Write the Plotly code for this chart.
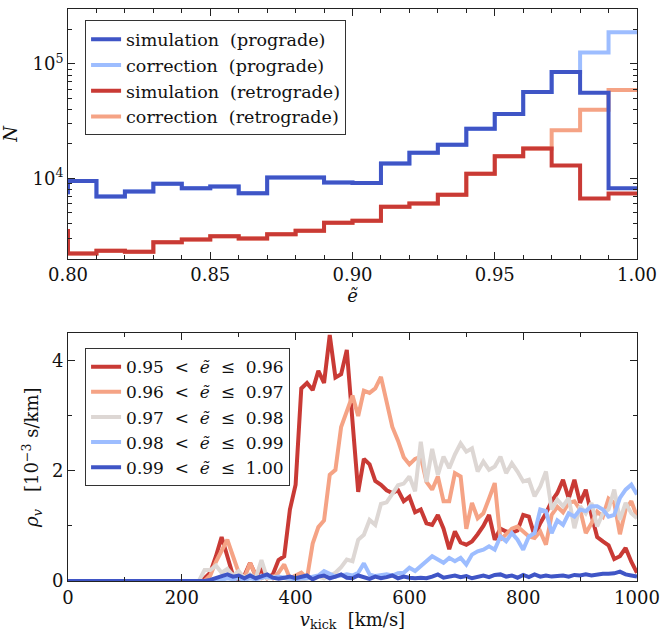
import numpy as np
import plotly.graph_objects as go
from plotly.subplots import make_subplots

# ---------------- top panel data: histograms in eccentricity ----------------
bin_left = [0.79, 0.80, 0.81, 0.82, 0.83, 0.84, 0.85, 0.86, 0.87, 0.88, 0.89,
            0.90, 0.91, 0.92, 0.93, 0.94, 0.95, 0.96, 0.97, 0.98, 0.99]
bin_width = 0.01
sim_pro = [7560, 9500, 6950, 7700, 9000, 8200, 8500, 7440, 10200, 10200, 9230,
           9100, 13500, 16800, 19700, 27200, 36500, 57000, 85000, 56100, 8200]
corr_pro = [7560, 9500, 6950, 7700, 9000, 8200, 8500, 7440, 10200, 10200, 9230,
            9100, 13500, 16800, 19700, 27200, 36500, 57000, 85000, 126000, 189000]
sim_retro = [3480, 2210, 2330, 2290, 2770, 2930, 3130, 2990, 3260, 3490, 4100,
             4260, 5650, 6040, 7200, 11000, 15600, 18300, 13000, 6680, 7400]
corr_retro = [3480, 2210, 2330, 2290, 2770, 2930, 3130, 2990, 3260, 3490, 4100,
              4260, 5650, 6040, 7200, 11000, 15600, 18300, 26300, 39800, 59300]

# ---------------- bottom panel data: kick velocity distributions ----------------
v_kick = list(range(0, 1010, 10))
rho_095 = [0]*24 + [0.05, 0.15, 0.45, 0.8, 0.45, 0.1, 0.02, 0.1, 0.33, 0.1, 0.2, 0.05, 0.12, 0.38, 0.45, 1.3,
           1.75, 3.5, 3.6, 3.47, 3.82, 3.6, 4.47, 3.7, 3.76, 4.2,
           2.9, 1.62, 2.22, 2.12, 1.82, 1.75, 1.65, 1.6, 1.65, 1.45,
           1.53, 1.25, 1.3, 1.05, 1.02, 1.2, 0.95, 0.58, 0.9, 0.7,
           0.66, 0.72, 0.85, 1.0, 1.2, 0.75, 0.95, 0.9, 0.88, 0.92,
           1.2, 1.17, 0.82, 1.05, 1.23, 1.45, 1.6, 1.84, 1.5, 1.84,
           1.42, 1.66, 1.2, 0.8, 0.72, 0.65, 0.4, 0.45, 0.6, 0.35, 0.15]
rho_096 = [0]*25 + [0.1, 0.35, 0.55, 0.75, 0.45, 0.15, 0.05, 0.33, 0.1, 0.05, 0.1, 0.05, 0.15, 0.3, 0.05,
           0.1, 0.15, 0.05, 0.68, 0.98, 1.1, 1.93, 2.02, 2.8, 3.1,
           3.37, 3.0, 3.46, 3.42, 3.5, 3.71, 3.22, 2.8, 2.55, 2.25,
           2.12, 2.22, 2.26, 1.8, 1.66, 1.9, 1.45, 1.45, 1.96, 1.9,
           0.95, 1.42, 1.14, 1.23, 1.5, 1.78, 0.75, 0.84, 0.95, 0.99,
           0.9, 0.81, 0.78, 0.9, 0.66, 1.2, 1.35, 1.25, 1.42, 1.45,
           1.3, 0.87, 1.05, 1.26, 1.17, 1.5, 1.42, 0.85, 1.3, 1.45, 1.17]
rho_097 = [0]*24 + [0.2, 0.2, 0.28, 0.15, 0.22, 0.1, 0.18, 0.05, 0.12, 0.05, 0.38, 0.05, 0.08, 0.05, 0.05, 0.02,
           0.05, 0.02, 0.05, 0.05, 0.08, 0.05, 0.1, 0.15, 0.25, 0.39,
           0.36, 0.75, 0.84, 1.11, 1.02, 1.4, 1.43, 1.6, 1.74, 1.77,
           1.9, 1.63, 2.53, 1.8, 2.4, 1.93, 2.26, 2.05, 2.3, 2.5,
           2.35, 2.41, 1.99, 2.17, 2.02, 2.08, 2.26, 1.96, 2.14, 1.99,
           1.81, 1.84, 1.54, 1.72, 1.99, 1.3, 1.48, 1.36, 1.51, 0.96,
           1.36, 1.23, 1.42, 0.99, 1.23, 1.3, 1.66, 1.11, 1.42, 1.23, 1.14]
rho_098 = [0]*27 + [0.02, 0.05, 0.03, 0.05, 0.02, 0.05, 0.03, 0.05, 0.08, 0.05, 0.08, 0.06, 0.05,
           0.03, 0.05, 0.05, 0.08, 0.1, 0.18, 0.12, 0.08, 0.1, 0.12,
           0.1, 0.15, 0.32, 0.12, 0.09, 0.1, 0.12, 0.1, 0.14, 0.15,
           0.24, 0.18, 0.27, 0.36, 0.45, 0.39, 0.33, 0.42, 0.36, 0.42,
           0.3, 0.48, 0.54, 0.57, 0.63, 0.57, 0.81, 0.72, 0.87, 0.75,
           0.57, 0.81, 0.87, 1.3, 1.27, 0.87, 1.1, 1.02, 1.23, 1.17,
           1.3, 1.27, 1.36, 1.36, 1.3, 1.17, 1.2, 1.51, 1.66, 1.75, 1.57]
rho_099 = [0]*25 + [0.02, 0.05, 0.08, 0.12, 0.08, 0.1, 0.05, 0.1, 0.05, 0.08, 0.12, 0.06, 0.04, 0.06, 0.08,
           0.05, 0.07, 0.1, 0.03, 0.08, 0.1, 0.05, 0.08, 0.12, 0.06,
           0.05, 0.1, 0.07, 0.04, 0.08, 0.05, 0.07, 0.1, 0.05, 0.08,
           0.06, 0.05, 0.06, 0.05, 0.08, 0.12, 0.06, 0.08, 0.1, 0.07,
           0.09, 0.05, 0.08, 0.1, 0.07, 0.11, 0.12, 0.08, 0.1, 0.06,
           0.11, 0.07, 0.12, 0.08, 0.1, 0.08, 0.09, 0.1, 0.08, 0.11,
           0.1, 0.12, 0.1, 0.12, 0.13, 0.13, 0.14, 0.17, 0.12, 0.1, 0.08]

NB = "\u00a0"
hist_labels = ["simulation" + NB + " (prograde)", "correction" + NB + " (prograde)",
               "simulation" + NB + " (retrograde)", "correction" + NB + " (retrograde)"]
bin_edges_lbl = ["0.95", "0.96", "0.97", "0.98", "0.99", "1.00"]
SP = NB + " "
bin_labels = [f"{bin_edges_lbl[i]}{SP}&lt;{SP}<i>ẽ</i>{SP}≤{SP}{bin_edges_lbl[i + 1]}" for i in range(5)]

C_BLUE = "#3f55c6"
C_LBLUE = "#9dbdff"
C_RED = "#c93a35"
C_SALMON = "#f5a385"
C_GREY = "#ddd7d4"

FONT = "DejaVu Serif"

fig = make_subplots(rows=2, cols=1)


def step_xy(left, vals):
    xs = list(left) + [left[-1] + bin_width]
    ys = list(vals) + [vals[-1]]
    return xs, ys


LW = 4
# draw corrections underneath, simulations on top
for vals, col, name, rank in [(corr_pro, C_LBLUE, hist_labels[1], 2),
                              (corr_retro, C_SALMON, hist_labels[3], 4),
                              (sim_pro, C_BLUE, hist_labels[0], 1),
                              (sim_retro, C_RED, hist_labels[2], 3)]:
    xs, ys = step_xy(bin_left, vals)
    fig.add_trace(go.Scatter(x=xs, y=ys, mode="lines", line=dict(color=col, width=LW, shape="hv"),
                             name=name, legend="legend", legendrank=rank), row=1, col=1)

for vals, col, name in [(rho_095, C_RED, bin_labels[0]), (rho_096, C_SALMON, bin_labels[1]),
                        (rho_097, C_GREY, bin_labels[2]), (rho_098, C_LBLUE, bin_labels[3]),
                        (rho_099, C_BLUE, bin_labels[4])]:
    fig.add_trace(go.Scatter(x=v_kick, y=vals, mode="lines", line=dict(color=col, width=LW),
                             name=name, legend="legend2"), row=2, col=1)

W, H = 668, 637
ML, MR, MT, MB = 68, 23, 8, 56
ph = H - MT - MB
top_dom = [(581 - 258) / ph, 1.0]
bot_dom = [0.0, (581 - 333) / ph]

axis_common = dict(showline=True, linecolor="#222", linewidth=1, mirror="allticks",
                   ticks="inside", ticklen=7, tickcolor="#222", tickwidth=1,
                   showgrid=False, zeroline=False,
                   tickfont=dict(family=FONT, size=18, color="#111"))

minor_top_x = [round(0.80 + 0.01 * i, 2) for i in range(21)]
fig.update_xaxes(range=[0.80, 1.00], tickvals=[0.80, 0.85, 0.90, 0.95, 1.00],
                 ticktext=["0.80", "0.85", "0.90", "0.95", "1.00"],
                 minor=dict(tickvals=minor_top_x, ticks="inside", ticklen=4, tickcolor="#222"),
                 title=dict(text="<i>ẽ</i>", font=dict(family=FONT, size=18, color="#111"), standoff=0),
                 **axis_common, row=1, col=1)
minor_logs = [m * 10 ** e for e in (3, 4, 5) for m in range(2, 10)]
fig.update_yaxes(type="log", range=[3.30, 5.48], tickvals=[1e4, 1e5],
                 ticktext=["10<sup>4</sup>", "10<sup>5</sup>"],
                 minor=dict(tickvals=minor_logs, ticks="inside", ticklen=4, tickcolor="#222"),
                 title=dict(text="<i>N</i>", font=dict(family=FONT, size=18, color="#111"), standoff=12),
                 **axis_common, row=1, col=1)
fig.update_xaxes(range=[0, 1000], tickvals=[0, 200, 400, 600, 800, 1000],
                 minor=dict(tickvals=list(range(0, 1001, 100)), ticks="inside", ticklen=4, tickcolor="#222"),
                 title=dict(text="<i>v</i><sub>kick</sub>  [km/s]", font=dict(family=FONT, size=18, color="#111"),
                            standoff=6),
                 **axis_common, row=2, col=1)
fig.update_yaxes(range=[0, 4.5], tickvals=[0, 2, 4],
                 minor=dict(tickvals=[1, 3], ticks="inside", ticklen=4, tickcolor="#222"),
                 title=dict(text="<i>ρ<sub>v</sub></i>   [10<sup>−3</sup> s/km]",
                            font=dict(family=FONT, size=18, color="#111"), standoff=8),
                 **axis_common, row=2, col=1)

fig.update_layout(
    width=W, height=H, margin=dict(l=ML, r=MR, t=MT, b=MB),
    paper_bgcolor="white", plot_bgcolor="white",
    xaxis=dict(domain=[0, 1]), xaxis2=dict(domain=[0, 1]),
    yaxis=dict(domain=top_dom), yaxis2=dict(domain=bot_dom),
    legend=dict(x=0.03, y=0.98, xanchor="left", yanchor="top", xref="paper", yref="paper",
                bgcolor="white", bordercolor="#333", borderwidth=1,
                font=dict(family=FONT, size=17.5, color="#111"), itemwidth=30,
                tracegroupgap=0),
    legend2=dict(x=0.03, y=0.407, xanchor="left", yanchor="top",
                 bgcolor="white", bordercolor="#333", borderwidth=1,
                 font=dict(family=FONT, size=17, color="#111"), itemwidth=30,
                 tracegroupgap=0),
)

fig.write_html("out.html")
